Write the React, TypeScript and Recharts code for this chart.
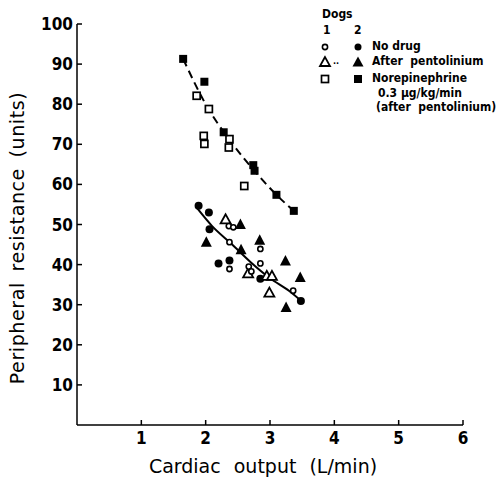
import React from 'react';
import { ScatterChart, Scatter, XAxis, YAxis } from 'recharts';

// Dog 1 = open symbols, dog 2 = filled symbols
const noDrugDog1 = [
  { x: 2.36, y: 49.6 }, { x: 2.43, y: 49.3 }, { x: 2.37, y: 45.6 }, { x: 2.85, y: 43.9 },
  { x: 2.37, y: 38.9 }, { x: 2.85, y: 40.3 }, { x: 2.67, y: 39.5 }, { x: 2.71, y: 38.3 },
  { x: 3.36, y: 33.5 },
];
const noDrugDog2 = [
  { x: 1.89, y: 54.7 }, { x: 2.05, y: 53.0 }, { x: 2.06, y: 48.8 }, { x: 2.2, y: 40.3 },
  { x: 2.37, y: 41.0 }, { x: 2.85, y: 36.5 }, { x: 3.48, y: 30.9 },
];
const pentoDog1 = [
  { x: 2.31, y: 51.3 }, { x: 2.66, y: 37.8 }, { x: 2.95, y: 37.2 }, { x: 3.03, y: 37.2 },
  { x: 2.99, y: 33.0 },
];
const pentoDog2 = [
  { x: 2.54, y: 50.0 }, { x: 2.01, y: 45.6 }, { x: 2.55, y: 43.7 }, { x: 2.84, y: 46.1 },
  { x: 3.24, y: 40.9 }, { x: 3.47, y: 36.8 }, { x: 3.25, y: 29.3 },
];
const noreDog1 = [
  { x: 1.86, y: 82.1 }, { x: 2.05, y: 78.8 }, { x: 1.97, y: 72.1 }, { x: 1.98, y: 70.1 },
  { x: 2.37, y: 71.3 }, { x: 2.36, y: 69.2 }, { x: 2.6, y: 59.6 },
];
const noreDog2 = [
  { x: 1.65, y: 91.3 }, { x: 1.98, y: 85.6 }, { x: 2.28, y: 73.0 }, { x: 2.74, y: 64.8 },
  { x: 2.76, y: 63.4 }, { x: 3.1, y: 57.4 }, { x: 3.37, y: 53.4 },
];
// hand-drawn fit curves
const controlCurve = [
  { x: 1.87, y: 54.0 }, { x: 2.1, y: 49.6 }, { x: 2.4, y: 45.2 }, { x: 2.7, y: 40.6 },
  { x: 3.0, y: 36.6 }, { x: 3.3, y: 33.4 }, { x: 3.48, y: 31.0 },
];
const noreCurve = [
  { x: 1.65, y: 91.3 }, { x: 2.0, y: 80.0 }, { x: 2.4, y: 70.5 }, { x: 2.8, y: 62.6 },
  { x: 3.1, y: 57.4 }, { x: 3.37, y: 53.4 },
];
const xTicks = [1, 2, 3, 4, 5, 6];
const yTicks = [10, 20, 30, 40, 50, 60, 70, 80, 90, 100];

const openCircle = (p: any) => <circle cx={p.cx} cy={p.cy} r={2.6} fill="#fff" stroke="#000" strokeWidth={1.6} />;
const dot = (p: any) => <circle cx={p.cx} cy={p.cy} r={4} fill="#000" />;
const openTri = (p: any) => (
  <polygon points={`${p.cx},${p.cy - 5} ${p.cx - 5},${p.cy + 4} ${p.cx + 5},${p.cy + 4}`} fill="#fff" stroke="#000" strokeWidth={1.8} />
);
const fullTri = (p: any) => (
  <polygon points={`${p.cx},${p.cy - 6} ${p.cx - 5.5},${p.cy + 4.5} ${p.cx + 5.5},${p.cy + 4.5}`} fill="#000" />
);
const openSq = (p: any) => <rect x={p.cx - 3.5} y={p.cy - 3.5} width={7} height={7} fill="#fff" stroke="#000" strokeWidth={1.7} />;
const fullSq = (p: any) => <rect x={p.cx - 4} y={p.cy - 4} width={8} height={8} fill="#000" />;
const none = () => <g />;

const narrow = "'DejaVu Sans Condensed', 'Liberation Sans Narrow', 'DejaVu Sans', sans-serif";
const tickFont = { fontFamily: narrow, fontStretch: 'condensed', fontSize: 17, fontWeight: 'bold', fill: '#000' };
const titleFont: React.CSSProperties = { fontFamily: 'DejaVu Sans', fontSize: 19, color: '#000', position: 'absolute', whiteSpace: 'nowrap' };
const legFont: React.CSSProperties = { fontFamily: narrow, fontStretch: 'condensed', fontSize: 12, fontWeight: 'bold', color: '#000', position: 'absolute', whiteSpace: 'nowrap', lineHeight: '13px' };

const Sym = ({ x, y, children }: { x: number; y: number; children: React.ReactNode }) => (
  <svg style={{ position: 'absolute', left: x - 7, top: y - 7 }} width={14} height={14}>{children}</svg>
);

export default function App() {
  return (
    <div style={{ position: 'absolute', left: 0, top: 0, width: 504, height: 482, background: '#fff' }}>
      <ScatterChart width={504} height={482} margin={{ top: 24, right: 41, bottom: 27, left: 27 }}>
        <XAxis type="number" dataKey="x" domain={[0, 6]} ticks={xTicks} allowDataOverflow
          stroke="#000" strokeWidth={1.5} tickSize={-5} tickMargin={12} height={30} tick={tickFont} />
        <YAxis type="number" dataKey="y" domain={[0, 100]} ticks={yTicks} allowDataOverflow
          stroke="#000" strokeWidth={1.5} tickSize={-5} tickMargin={9} width={50} tick={tickFont} />
        <Scatter data={noreCurve} shape={none} line={{ stroke: '#000', strokeWidth: 2, strokeDasharray: '8 5' }} lineJointType="monotoneX" isAnimationActive={false} />
        <Scatter data={controlCurve} shape={none} line={{ stroke: '#000', strokeWidth: 2 }} lineJointType="monotoneX" isAnimationActive={false} />
        <Scatter data={noreDog1} shape={openSq} isAnimationActive={false} />
        <Scatter data={noreDog2} shape={fullSq} isAnimationActive={false} />
        <Scatter data={noDrugDog2} shape={dot} isAnimationActive={false} />
        <Scatter data={pentoDog2} shape={fullTri} isAnimationActive={false} />
        <Scatter data={pentoDog1} shape={openTri} isAnimationActive={false} />
        <Scatter data={noDrugDog1} shape={openCircle} isAnimationActive={false} />
      </ScatterChart>

      <div style={{ ...titleFont, left: 17, top: 238, transform: 'translate(-50%, -50%) rotate(-90deg)', letterSpacing: 0.6, wordSpacing: 4 }}>
        Peripheral resistance (units)
      </div>
      <div style={{ ...titleFont, left: 263, top: 466, transform: 'translate(-50%, -50%)', wordSpacing: 7 }}>
        Cardiac output (L/min)
      </div>

      <div style={{ ...legFont, left: 322, top: 8 }}>Dogs</div>
      <div style={{ ...legFont, left: 323, top: 24 }}>1</div>
      <div style={{ ...legFont, left: 354, top: 24 }}>2</div>
      <Sym x={325} y={47}><circle cx={7} cy={7} r={2.6} fill="#fff" stroke="#000" strokeWidth={1.6} /></Sym>
      <Sym x={358} y={47}><circle cx={7} cy={7} r={3.5} fill="#000" /></Sym>
      <div style={{ ...legFont, left: 372, top: 40 }}>No drug</div>
      <Sym x={325} y={62}><polygon points="7,2 2,11 12,11" fill="#fff" stroke="#000" strokeWidth={1.8} /></Sym>
      <div style={{ ...legFont, left: 333, top: 55, fontSize: 9 }}>..</div>
      <Sym x={358} y={62}><polygon points="7,1.5 1.5,11.5 12.5,11.5" fill="#000" /></Sym>
      <div style={{ ...legFont, left: 372, top: 55 }}>After&nbsp; pentolinium</div>
      <Sym x={325} y={79}><rect x={3.5} y={3.5} width={7} height={7} fill="#fff" stroke="#000" strokeWidth={1.7} /></Sym>
      <Sym x={358} y={79}><rect x={3} y={3} width={8} height={8} fill="#000" /></Sym>
      <div style={{ ...legFont, left: 372, top: 72 }}>Norepinephrine</div>
      <div style={{ ...legFont, left: 378, top: 87 }}>0.3 µg/kg/min</div>
      <div style={{ ...legFont, left: 376, top: 101 }}>(after&nbsp; pentolinium)</div>
    </div>
  );
}
